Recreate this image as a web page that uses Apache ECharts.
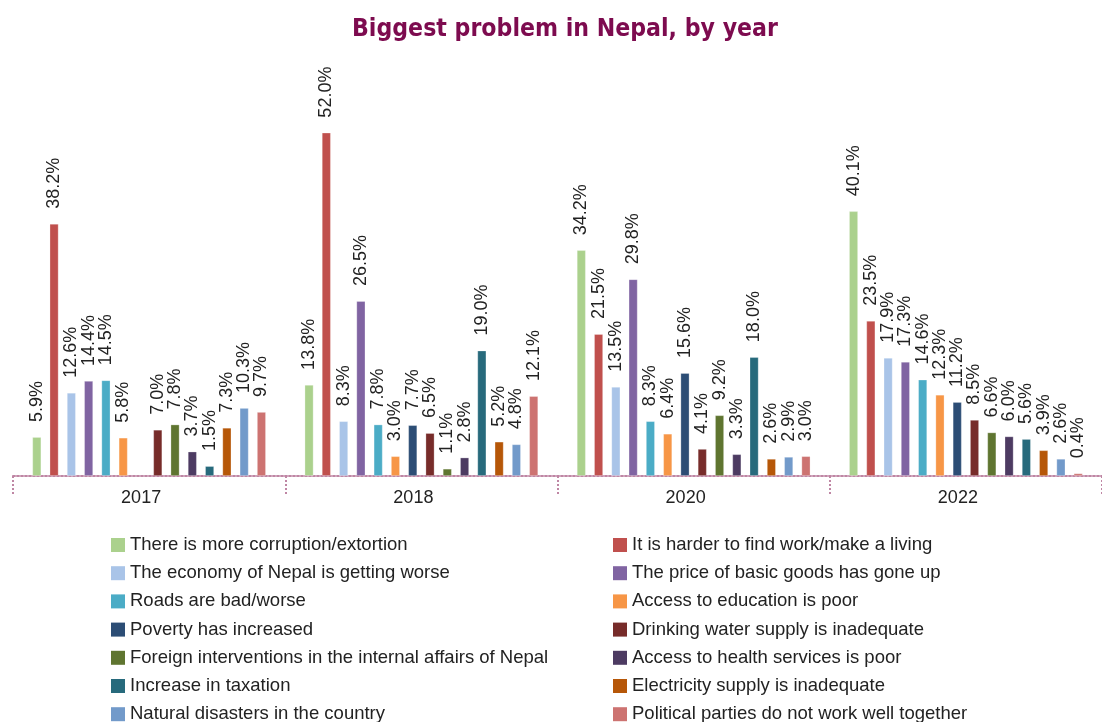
<!DOCTYPE html>
<html>
<head>
<meta charset="utf-8">
<style>
  html, body { margin: 0; padding: 0; background: #ffffff; }
  #chart { width: 1102px; height: 722px; }
</style>
<script src="https://cdn.jsdelivr.net/npm/echarts@6/dist/echarts.min.js"></script>
</head>
<body>
<div id="chart"></div>
<script>
// Survey years shown on the category axis
const years = ['2017', '2018', '2020', '2022'];

// Answer options, in drawing order within each year
const problems = [
  'There is more corruption/extortion',
  'It is harder to find work/make a living',
  'The economy of Nepal is getting worse',
  'The price of basic goods has gone up',
  'Roads are bad/worse',
  'Access to education is poor',
  'Poverty has increased',
  'Drinking water supply is inadequate',
  'Foreign interventions in the internal affairs of Nepal',
  'Access to health services is poor',
  'Increase in taxation',
  'Electricity supply is inadequate',
  'Natural disasters in the country',
  'Political parties do not work well together'
];

const colors = [
  '#abd18d', '#c0504d', '#a9c4e8', '#8064a2', '#4bacc6', '#f79646', '#2c4d75',
  '#772c2a', '#5f7530', '#4d3b62', '#276a7c', '#b65708', '#729aca', '#cd7371'
];

// Share of respondents (%) per year, one value per answer option (null = not asked)
const share2017 = [5.9, 38.2, 12.6, 14.4, 14.5, 5.8, null, 7.0, 7.8, 3.7, 1.5, 7.3, 10.3, 9.7];
const share2018 = [13.8, 52.0, 8.3, 26.5, 7.8, 3.0, 7.7, 6.5, 1.1, 2.8, 19.0, 5.2, 4.8, 12.1];
const share2020 = [34.2, 21.5, 13.5, 29.8, 8.3, 6.4, 15.6, 4.1, 9.2, 3.3, 18.0, 2.6, 2.9, 3.0];
const share2022 = [40.1, 23.5, 17.9, 17.3, 14.6, 12.3, 11.2, 8.5, 6.6, 6.0, 5.6, 3.9, 2.6, 0.4];

const byYear = [share2017, share2018, share2020, share2022];

const axisColor = '#bf86a4';
const textFont = '"Liberation Sans", Arial, sans-serif';

const series = problems.map((name, i) => ({
  name: name,
  type: 'bar',
  barWidth: 9,
  barGap: '92%',
  data: byYear.map(arr => arr[i]),
  itemStyle: {
    color: colors[i],
    borderColor: 'rgba(255,255,255,0.35)',
    borderWidth: 0.8
  },
  label: {
    show: true,
    position: 'top',
    rotate: 90,
    align: 'left',
    verticalAlign: 'middle',
    distance: 15,
    fontFamily: textFont,
    fontSize: 18,
    color: '#222222',
    formatter: p => (p.value == null ? '' : Number(p.value).toFixed(1) + '%')
  }
}));

// Two legend columns, read row by row
const leftNames = problems.filter((_, i) => i % 2 === 0);
const rightNames = problems.filter((_, i) => i % 2 === 1);

const legendBase = {
  orient: 'vertical',
  top: 535,
  height: 260,
  icon: 'rect',
  itemWidth: 14,
  itemHeight: 14,
  itemGap: 8.2,
  padding: 0,
  selectedMode: false,
  itemStyle: { borderWidth: 0 },
  textStyle: { fontFamily: textFont, fontSize: 18.5, lineHeight: 20, color: '#222222' }
};

const chart = echarts.init(document.getElementById('chart'), null, { renderer: 'canvas' });
chart.setOption({
  backgroundColor: '#ffffff',
  animation: false,
  color: colors,
  title: {
    text: 'Biggest problem in Nepal, by year',
    left: 347,
    top: 12,
    textStyle: {
      fontFamily: '"DejaVu Sans Condensed", "DejaVu Sans", sans-serif',
      fontWeight: 'bold',
      fontSize: 24.6,
      color: '#7d0b4f'
    }
  },
  legend: [
    Object.assign({}, legendBase, { left: 111, data: leftNames }),
    Object.assign({}, legendBase, { left: 613, data: rightNames })
  ],
  grid: { left: 13, right: -8, top: 60, bottom: 246, containLabel: false },
  xAxis: {
    type: 'category',
    data: years,
    axisLine: { show: true, lineStyle: { color: axisColor, type: 'dotted', width: 2 } },
    axisTick: { show: true, length: 20, lineStyle: { color: axisColor, type: 'dotted', width: 2 } },
    axisLabel: {
      fontFamily: textFont,
      fontSize: 18,
      color: '#222222',
      margin: 13,
      padding: [0, 16, 0, 0]
    }
  },
  yAxis: {
    type: 'value',
    min: 0,
    max: 63,
    show: false,
    splitLine: { show: false }
  },
  series: series
});
</script>
</body>
</html>
